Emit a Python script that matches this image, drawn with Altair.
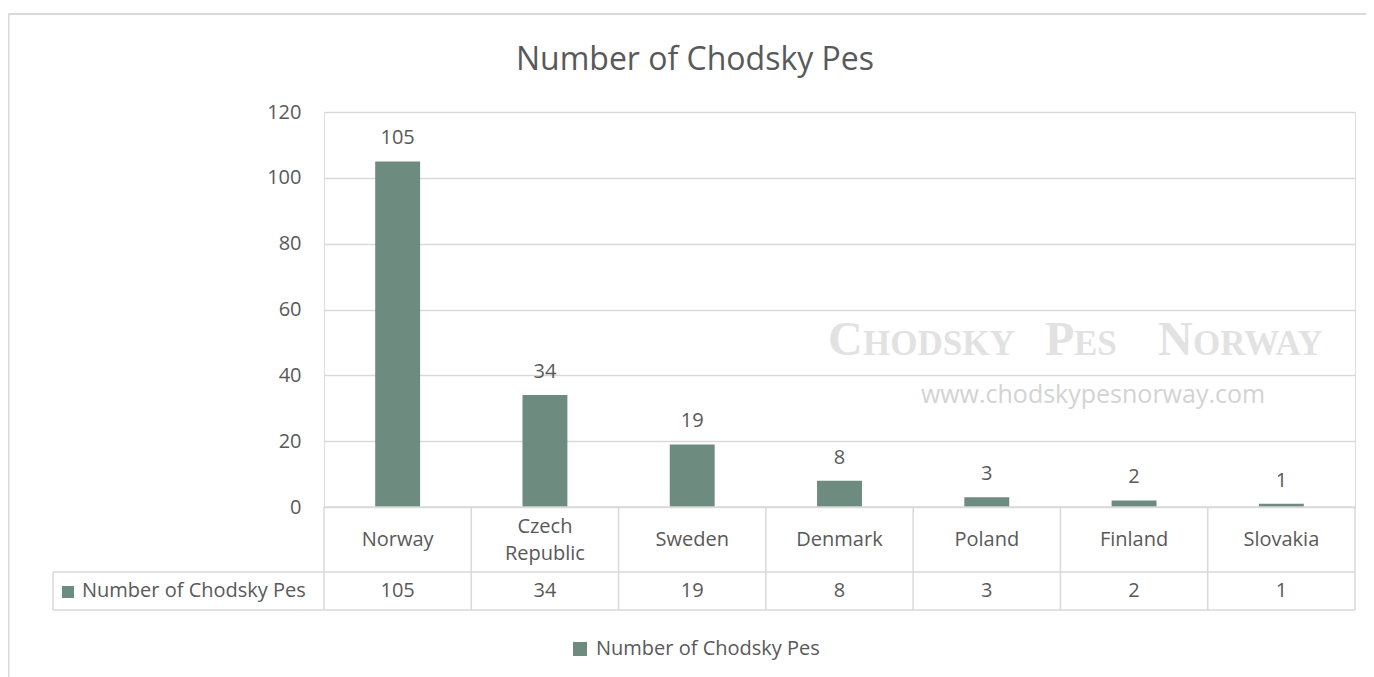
import altair as alt
import pandas as pd

countries = ["Norway", "Czech Republic", "Sweden", "Denmark", "Poland", "Finland", "Slovakia"]
table_labels = ["Norway", "Czech\nRepublic", "Sweden", "Denmark", "Poland", "Finland", "Slovakia"]
counts = [105, 34, 19, 8, 3, 2, 1]
series_name = "Number of Chodsky Pes"
y_ticks = [0, 20, 40, 60, 80, 100, 120]

BAR = "#6E8B80"
TXT = "#595959"
GRID = "#D9D9D9"
FONT = "Open Sans"

W, H = 1031, 395

df = pd.DataFrame({
    "country": countries,
    "count": counts,
    "tlabel": table_labels,
    "series": [series_name] * len(countries),
})
one = alt.Data(values=[{"k": 0}])

base = alt.Chart(df)
xenc = alt.X("country:N", sort=countries,
             scale=alt.Scale(paddingInner=0, paddingOuter=0), axis=None)
xref = alt.X("country:N", sort=countries)

bars = base.mark_bar(width={"band": 0.305}).encode(
    x=xenc,
    y=alt.Y("count:Q", scale=alt.Scale(domain=[0, 120], nice=False),
            axis=alt.Axis(values=y_ticks, title=None, domain=False, ticks=False,
                          labelFontSize=20, labelColor=TXT, labelFont=FONT,
                          labelPadding=23, gridColor=GRID, gridWidth=1.3)),
    color=alt.Color("series:N", scale=alt.Scale(range=[BAR]),
                    legend=alt.Legend(orient="none", legendX=246, legendY=527, title=None,
                                      symbolType="square", symbolSize=196,
                                      symbolStrokeWidth=0, labelFontSize=20,
                                      labelColor=TXT, labelFont=FONT, labelOffset=6,
                                      labelLimit=0, padding=0)),
)

bar_labels = base.mark_text(fontSize=20, font=FONT, color=TXT, baseline="alphabetic",
                            dy=-17).encode(x=xref, y="count:Q", text="count:Q")

# data table
cat_single = base.transform_filter("indexof(datum.tlabel, '\\n') < 0").mark_text(
    fontSize=20, font=FONT, color=TXT, baseline="middle").encode(
    x=xref, y=alt.value(428), text="tlabel:N")
cat_multi = base.transform_filter("indexof(datum.tlabel, '\\n') >= 0").mark_text(
    fontSize=20, font=FONT, color=TXT, baseline="middle",
    lineBreak="\n", lineHeight=27, dy=-13.5).encode(
    x=xref, y=alt.value(428), text="tlabel:N")
val_text = base.mark_text(fontSize=20, font=FONT, color=TXT, baseline="middle").encode(
    x=xref, y=alt.value(479), text="count:Q")
vlines = base.mark_rule(color=GRID, strokeWidth=1.5).encode(
    x=alt.X("country:N", sort=countries, bandPosition=0),
    y=alt.value(395), y2=alt.value(498))

def rule(x, x2, y, y2, sw=1.5):
    return alt.Chart(one).mark_rule(color=GRID, strokeWidth=sw).encode(
        x=alt.value(x), x2=alt.value(x2), y=alt.value(y), y2=alt.value(y2))

table_lines = [
    rule(W, W, 395, 498),
    rule(0, W, 395, 395),
    rule(-271, W, 460, 460),
    rule(-271, W, 498, 498),
    rule(-271, -271, 460, 498),
    # outer chart border
    rule(-315.5, 1060, -98, -98, 2),
    rule(-315.5, -315.5, -98, 600, 2),
]

def txt(s, x, y, size, color=TXT, align="center", baseline="middle", font=FONT, weight="normal"):
    return alt.Chart(one).mark_text(text=s, fontSize=size, color=color, align=align,
                                    baseline=baseline, font=font, fontWeight=weight).encode(
        x=alt.value(x), y=alt.value(y))

legend_sq = alt.Chart(one).mark_square(size=144, color=BAR, filled=True, opacity=1).encode(
    x=alt.value(-256), y=alt.value(480))

title = txt("Number of Chodsky Pes", 371, -52, 32)
table_series = txt(series_name, -242, 479, 20, align="left")

WM = "#E2E2E2"
SERIF = "Liberation Serif"
wm = [
    txt("C", 504, 243, 48, WM, "left", "alphabetic", SERIF, "bold"),
    txt("HODSKY", 539, 243, 35, WM, "left", "alphabetic", SERIF, "bold"),
    txt("P", 721, 243, 48, WM, "left", "alphabetic", SERIF, "bold"),
    txt("ES", 750, 243, 35, WM, "left", "alphabetic", SERIF, "bold"),
    txt("N", 834, 243, 48, WM, "left", "alphabetic", SERIF, "bold"),
    txt("ORWAY", 869, 243, 35, WM, "left", "alphabetic", SERIF, "bold"),
    txt("www.chodskypesnorway.com", 769, 283, 25, "#D3D3D3"),
]

chart = alt.layer(
    *wm, bars, bar_labels, cat_single, cat_multi, val_text, vlines, *table_lines,
    legend_sq, title, table_series,
).properties(
    width=W, height=H,
    padding={"left": 316, "top": 104, "right": 11, "bottom": 175},
    autosize=alt.AutoSizeParams(type="none"),
).configure_view(stroke=None).configure(font=FONT)

chart.save("out.html", embed_options={"renderer": "svg", "actions": False})
